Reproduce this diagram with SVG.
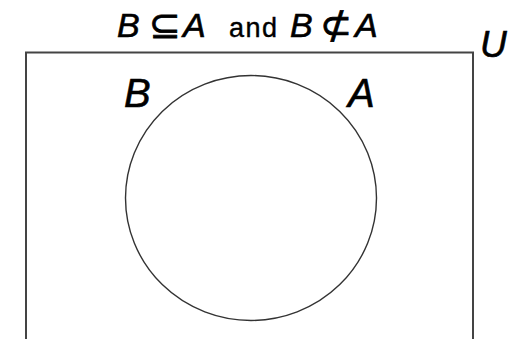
<svg xmlns="http://www.w3.org/2000/svg" width="518" height="339" viewBox="0 0 518 339">
<style>
.it{font-family:"Liberation Sans",Arial,sans-serif;font-style:italic;fill:#000;stroke:#000;stroke-width:0.6}
.sym{font-family:"DejaVu Sans",sans-serif;fill:#000;stroke:#000;stroke-width:0.8}
.rm{font-family:"Liberation Sans",Arial,sans-serif;fill:#000;stroke:#000;stroke-width:0.4}
.line{fill:none;stroke:#444;stroke-width:2}
.set{fill:none;stroke:#333;stroke-width:1.4}
</style>
<rect width="518" height="339" fill="#fff"/>
<g id="title">
<text class="it" x="117" y="37" font-size="34">B</text>
<text class="sym" x="165" y="38" font-size="38" text-anchor="middle">⊆</text>
<text class="it" x="183" y="37" font-size="34">A</text>
<text class="rm" x="229" y="37" font-size="27" letter-spacing="1.5">and</text>
<text class="it" x="290" y="37" font-size="34">B</text>
<text class="sym" x="336" y="38" font-size="38" text-anchor="middle">⊄</text>
<text class="it" x="355" y="37" font-size="34">A</text>
</g>
<g id="universe">
<path class="line" d="M26,339 V52.5 H473 V339"/>
<text class="it" x="480" y="57" font-size="37">U</text>
</g>
<g id="setA_B">
<ellipse class="set" cx="251" cy="198" rx="125.5" ry="122.5"/>
<text class="it" x="124" y="107" font-size="40">B</text>
<text class="it" x="348" y="107" font-size="40">A</text>
</g>
</svg>
